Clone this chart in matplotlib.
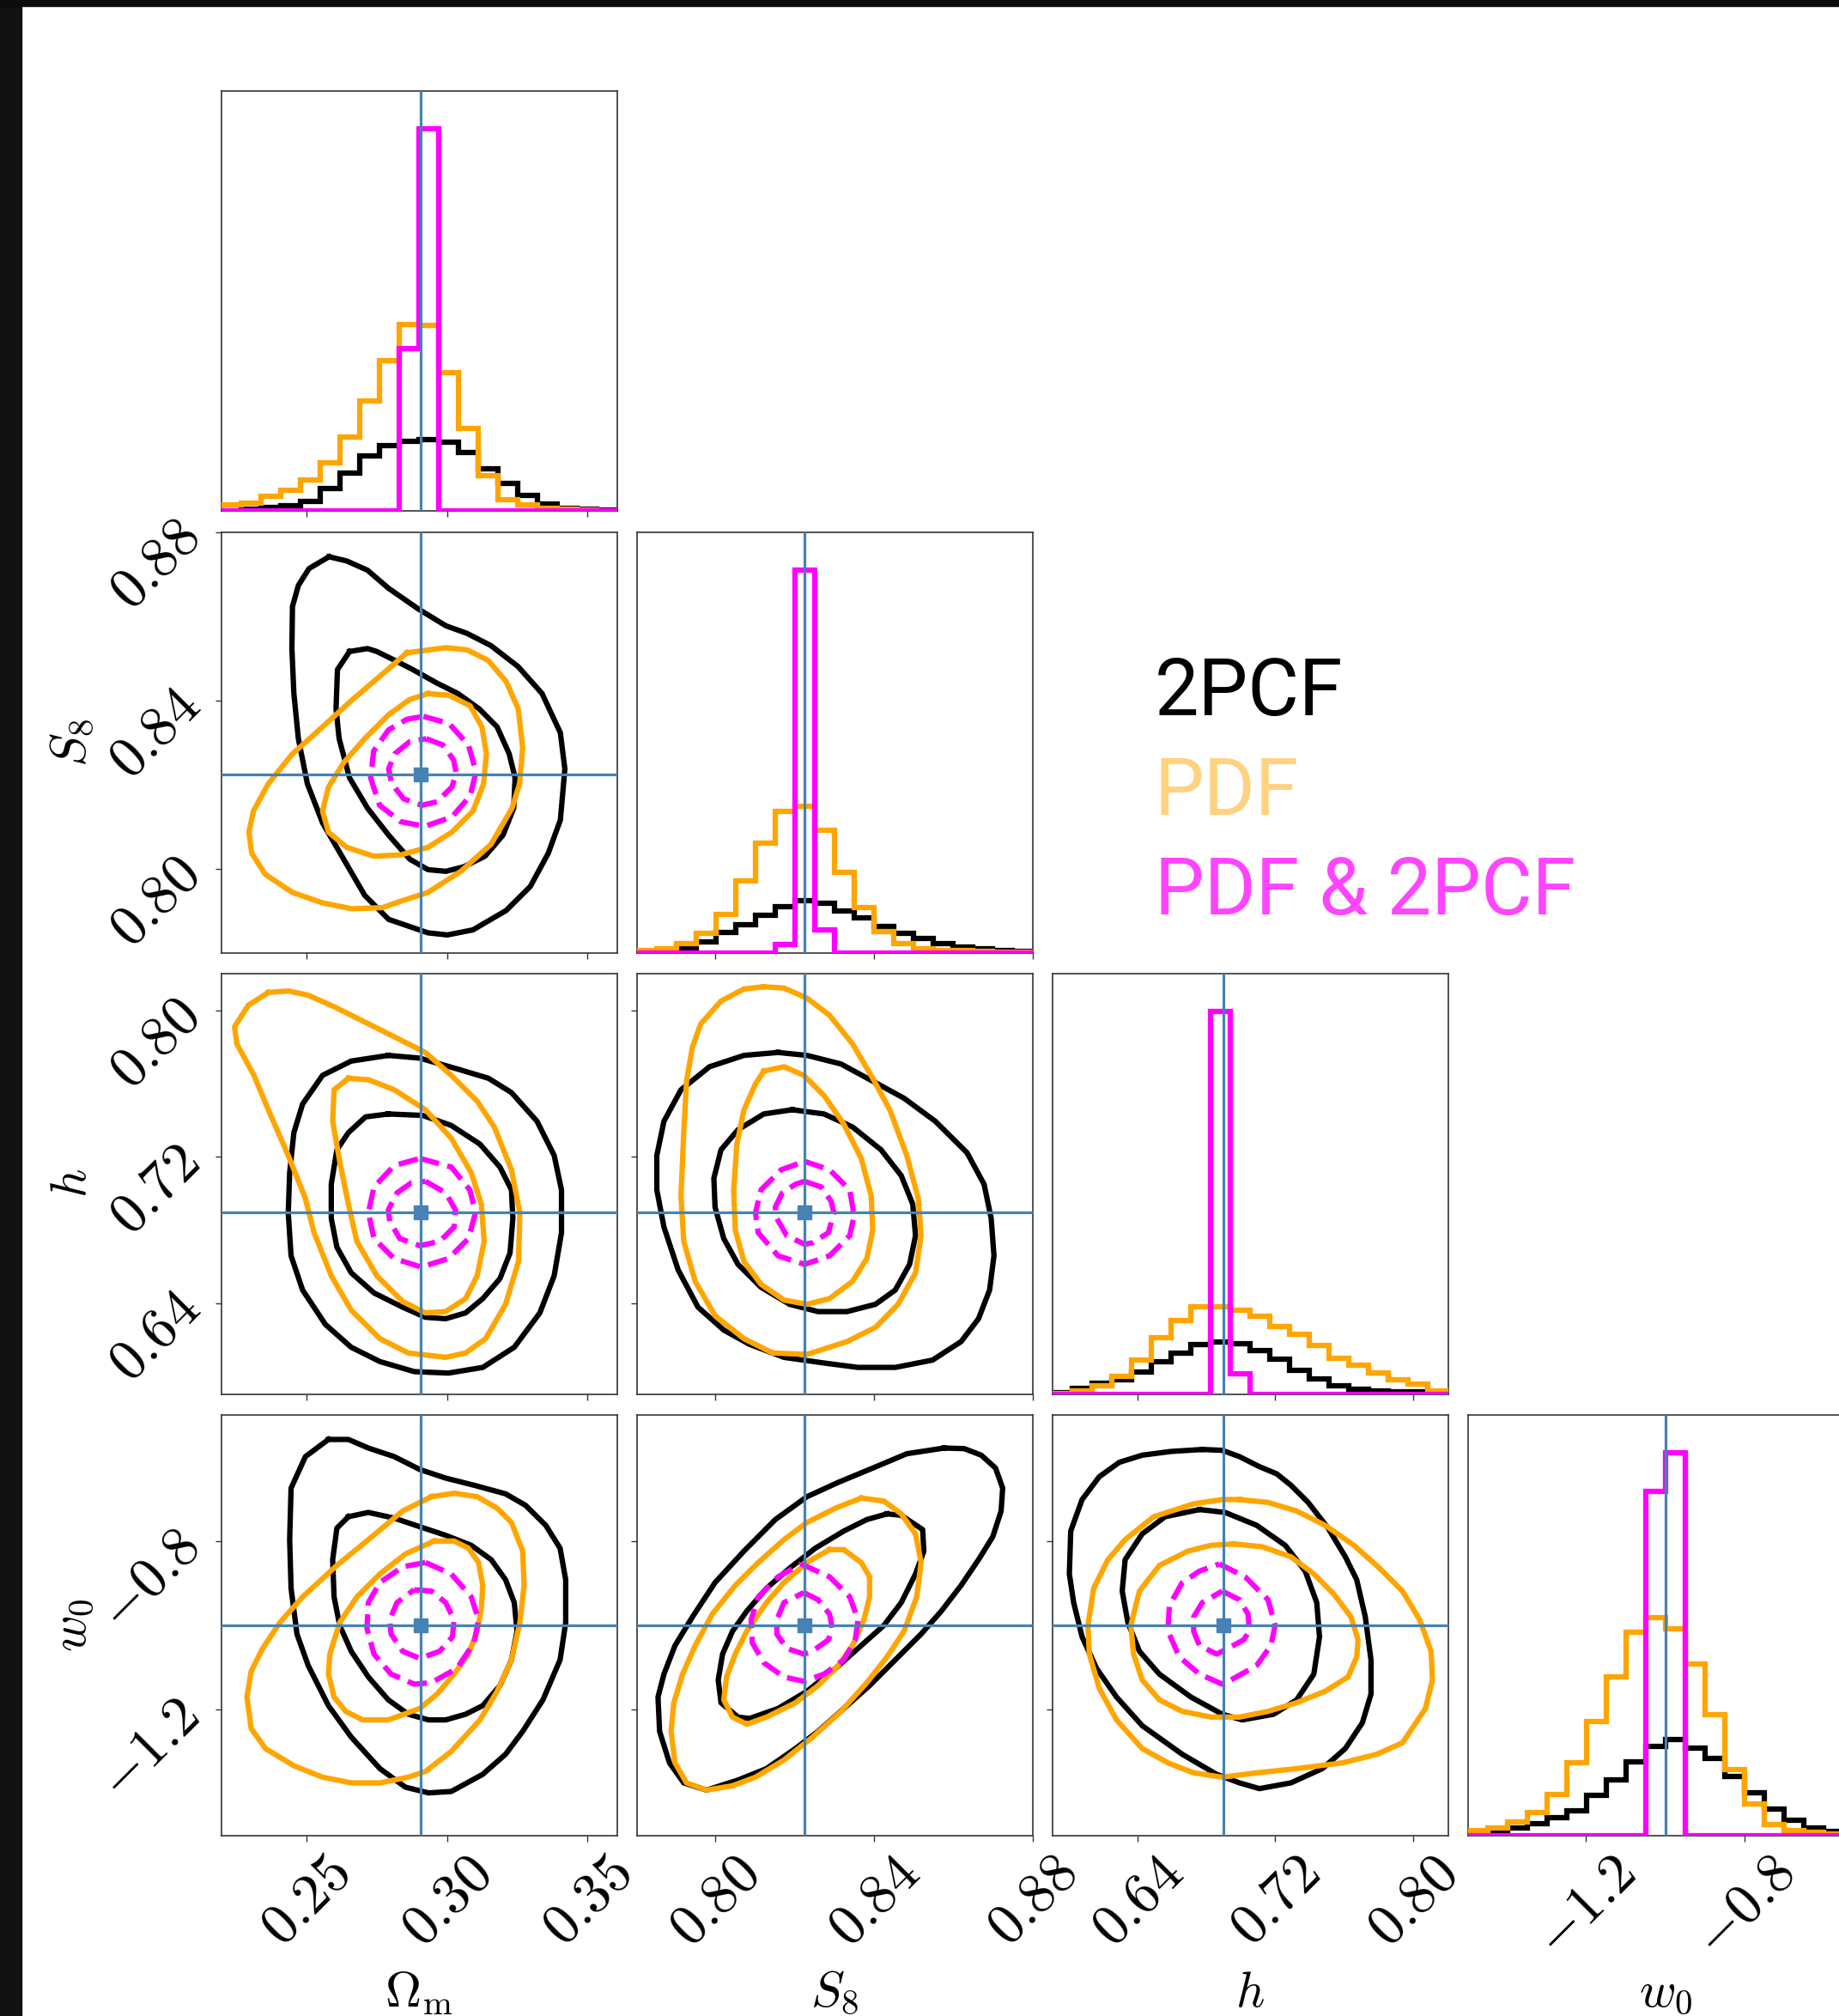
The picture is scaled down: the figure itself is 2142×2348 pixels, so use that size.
import numpy as np
import matplotlib.pyplot as plt

plt.rcParams['mathtext.fontset'] = 'cm'
plt.rcParams['font.family'] = ['DejaVu Sans']

# parameter ranges, fiducial values and ticks
om_range = (0.2196, 0.3604)
s8_range = (0.7801, 0.8800)
h_range = (0.5904, 0.8203)
w0_range = (-1.4965, -0.5015)

om_true, s8_true, h_true, w0_true = 0.2905, 0.8225, 0.6898, -1.0

om_ticks = [0.25, 0.30, 0.35]
s8_ticks = [0.80, 0.84, 0.88]
h_ticks = [0.64, 0.72, 0.80]
w0_ticks = [-1.2, -0.8]

# 1D marginals, 20 bins over each range (joint peak = 1)
om_hist_2pcf = [0.002, 0.005, 0.009, 0.014, 0.025, 0.060, 0.100, 0.144, 0.172, 0.183,
                0.187, 0.181, 0.154, 0.111, 0.074, 0.041, 0.020, 0.008, 0.005, 0.004]
om_hist_pdf = [0.016, 0.022, 0.039, 0.055, 0.081, 0.126, 0.195, 0.288, 0.393, 0.488,
               0.486, 0.362, 0.216, 0.093, 0.030, 0.016, 0.008, 0.005, 0.003, 0.002]
om_hist_joint = [0, 0, 0, 0, 0, 0, 0, 0, 0, 0.425, 1.0, 0, 0, 0, 0, 0, 0, 0, 0, 0]

s8_hist_2pcf = [0.003, 0.005, 0.012, 0.028, 0.052, 0.074, 0.098, 0.120, 0.136, 0.128,
                0.108, 0.090, 0.068, 0.050, 0.036, 0.024, 0.014, 0.010, 0.006, 0.004]
s8_hist_pdf = [0.006, 0.011, 0.024, 0.050, 0.100, 0.188, 0.286, 0.369, 0.382, 0.320,
               0.209, 0.117, 0.056, 0.024, 0.011, 0.006, 0.005, 0.003, 0.002, 0.002]
s8_hist_joint = [0, 0, 0, 0, 0, 0, 0, 0.022, 1.0, 0.060, 0, 0, 0, 0, 0, 0, 0, 0, 0, 0]

h_hist_2pcf = [0.004, 0.015, 0.027, 0.036, 0.057, 0.085, 0.107, 0.129, 0.135, 0.132,
               0.113, 0.092, 0.062, 0.040, 0.022, 0.012, 0.007, 0.006, 0.005, 0.002]
h_hist_pdf = [0.002, 0.007, 0.021, 0.045, 0.088, 0.148, 0.193, 0.227, 0.227, 0.219,
              0.204, 0.176, 0.155, 0.126, 0.094, 0.076, 0.055, 0.036, 0.025, 0.007]
h_hist_joint = [0, 0, 0, 0, 0, 0, 0, 0, 1.0, 0.052, 0, 0, 0, 0, 0, 0, 0, 0, 0, 0]

w0_hist_2pcf = [0.005, 0.011, 0.018, 0.031, 0.045, 0.064, 0.104, 0.144, 0.192, 0.232,
                0.251, 0.227, 0.200, 0.154, 0.112, 0.069, 0.040, 0.020, 0.010, 0.006]
w0_hist_pdf = [0.013, 0.020, 0.034, 0.059, 0.107, 0.190, 0.297, 0.414, 0.530, 0.568,
               0.541, 0.447, 0.315, 0.171, 0.082, 0.029, 0.013, 0.008, 0.004, 0.003]
w0_hist_joint = [0, 0, 0, 0, 0, 0, 0, 0, 0, 0.900, 1.0, 0, 0, 0, 0, 0, 0, 0, 0, 0]

# 2D credible contours (68% / 95%), (x, y) in parameter units
om_s8_2pcf_95 = [(0.2580, 0.8741), (0.2509, 0.8713), (0.2471, 0.8673), (0.2450, 0.8623), (0.2448, 0.8523),
                 (0.2455, 0.8416), (0.2471, 0.8309), (0.2503, 0.8202), (0.2557, 0.8109), (0.2632, 0.8023),
                 (0.2707, 0.7937), (0.2792, 0.7880), (0.2932, 0.7848), (0.3001, 0.7843), (0.3092, 0.7855),
                 (0.3210, 0.7901), (0.3296, 0.7958), (0.3360, 0.8037), (0.3403, 0.8116), (0.3419, 0.8237),
                 (0.3403, 0.8323), (0.3338, 0.8416), (0.3253, 0.8480), (0.3156, 0.8530), (0.3071, 0.8559),
                 (0.2996, 0.8577), (0.2900, 0.8616), (0.2792, 0.8666), (0.2717, 0.8709), (0.2643, 0.8731)]
om_s8_2pcf_68 = [(0.2653, 0.8516), (0.2610, 0.8473), (0.2605, 0.8380), (0.2616, 0.8309), (0.2653, 0.8216),
                 (0.2717, 0.8144), (0.2792, 0.8080), (0.2867, 0.8023), (0.2932, 0.7998), (0.2996, 0.7994),
                 (0.3060, 0.8005), (0.3135, 0.8030), (0.3199, 0.8080), (0.3237, 0.8144), (0.3242, 0.8216),
                 (0.3221, 0.8273), (0.3178, 0.8337), (0.3114, 0.8380), (0.3039, 0.8416), (0.2964, 0.8441),
                 (0.2878, 0.8473), (0.2814, 0.8495), (0.2750, 0.8516), (0.2717, 0.8523)]
om_s8_pdf_95 = [(0.2857, 0.8513), (0.2996, 0.8525), (0.3071, 0.8520), (0.3146, 0.8495), (0.3210, 0.8445),
                (0.3253, 0.8380), (0.3269, 0.8287), (0.3258, 0.8202), (0.3231, 0.8144), (0.3156, 0.8058),
                (0.3049, 0.7994), (0.2932, 0.7944), (0.2835, 0.7923), (0.2771, 0.7908), (0.2664, 0.7905),
                (0.2557, 0.7919), (0.2450, 0.7944), (0.2353, 0.7987), (0.2305, 0.8037), (0.2295, 0.8087),
                (0.2311, 0.8137), (0.2364, 0.8202), (0.2450, 0.8273), (0.2557, 0.8337), (0.2664, 0.8402),
                (0.2771, 0.8463)]
om_s8_pdf_68 = [(0.2932, 0.8416), (0.3007, 0.8412), (0.3082, 0.8387), (0.3124, 0.8337), (0.3140, 0.8273),
                (0.3130, 0.8202), (0.3092, 0.8137), (0.3017, 0.8087), (0.2932, 0.8051), (0.2835, 0.8033),
                (0.2739, 0.8030), (0.2643, 0.8051), (0.2578, 0.8087), (0.2557, 0.8137), (0.2578, 0.8194),
                (0.2632, 0.8252), (0.2707, 0.8309), (0.2792, 0.8366), (0.2867, 0.8402)]
om_s8_joint_95 = [(0.2916, 0.8362), (0.3007, 0.8345), (0.3076, 0.8294), (0.3103, 0.8230), (0.3082, 0.8173),
                  (0.3017, 0.8123), (0.2921, 0.8101), (0.2835, 0.8112), (0.2760, 0.8151), (0.2728, 0.8216),
                  (0.2739, 0.8280), (0.2792, 0.8330), (0.2857, 0.8355)]
om_s8_joint_68 = [(0.2926, 0.8309), (0.2985, 0.8294), (0.3023, 0.8259), (0.3033, 0.8227), (0.3017, 0.8194),
                  (0.2964, 0.8159), (0.2910, 0.8151), (0.2846, 0.8166), (0.2803, 0.8202), (0.2792, 0.8237),
                  (0.2814, 0.8273), (0.2867, 0.8302)]

om_h_2pcf_95 = [(0.2791, 0.7754), (0.2903, 0.7739), (0.3045, 0.7676), (0.3147, 0.7629), (0.3229, 0.7551),
                (0.3320, 0.7394), (0.3381, 0.7207), (0.3407, 0.7019), (0.3407, 0.6785), (0.3381, 0.6550),
                (0.3330, 0.6347), (0.3239, 0.6159), (0.3127, 0.6049), (0.3005, 0.6018), (0.2883, 0.6026),
                (0.2761, 0.6081), (0.2659, 0.6159), (0.2567, 0.6284), (0.2486, 0.6472), (0.2445, 0.6659),
                (0.2435, 0.6894), (0.2440, 0.7113), (0.2455, 0.7332), (0.2486, 0.7488), (0.2557, 0.7645),
                (0.2659, 0.7723)]
om_h_2pcf_68 = [(0.2791, 0.7434), (0.2913, 0.7426), (0.3015, 0.7371), (0.3117, 0.7269), (0.3188, 0.7144),
                (0.3229, 0.7019), (0.3234, 0.6863), (0.3224, 0.6675), (0.3188, 0.6534), (0.3127, 0.6425),
                (0.3066, 0.6347), (0.2995, 0.6315), (0.2923, 0.6323), (0.2842, 0.6378), (0.2740, 0.6456),
                (0.2659, 0.6566), (0.2608, 0.6706), (0.2588, 0.6863), (0.2588, 0.7050), (0.2608, 0.7238),
                (0.2649, 0.7332), (0.2710, 0.7418)]
om_h_pdf_95 = [(0.2364, 0.8098), (0.2435, 0.8106), (0.2506, 0.8083), (0.2598, 0.8020), (0.2761, 0.7895),
               (0.2923, 0.7770), (0.3015, 0.7645), (0.3107, 0.7504), (0.3168, 0.7363), (0.3229, 0.7129),
               (0.3259, 0.6894), (0.3254, 0.6628), (0.3208, 0.6394), (0.3137, 0.6206), (0.3066, 0.6128),
               (0.2995, 0.6104), (0.2862, 0.6128), (0.2761, 0.6206), (0.2659, 0.6362), (0.2588, 0.6550),
               (0.2527, 0.6785), (0.2496, 0.6972), (0.2435, 0.7207), (0.2364, 0.7457), (0.2313, 0.7645),
               (0.2252, 0.7817), (0.2244, 0.7911), (0.2293, 0.8028)]
om_h_pdf_68 = [(0.2649, 0.7629), (0.2720, 0.7621), (0.2812, 0.7566), (0.2923, 0.7457), (0.3015, 0.7301),
               (0.3086, 0.7113), (0.3122, 0.6941), (0.3132, 0.6738), (0.3107, 0.6550), (0.3066, 0.6425),
               (0.2995, 0.6354), (0.2923, 0.6347), (0.2842, 0.6409), (0.2750, 0.6550), (0.2679, 0.6738),
               (0.2649, 0.6941), (0.2618, 0.7175), (0.2593, 0.7394), (0.2598, 0.7566)]
om_h_joint_95 = [(0.2903, 0.7191), (0.3015, 0.7144), (0.3081, 0.7019), (0.3101, 0.6894), (0.3076, 0.6753),
                 (0.3005, 0.6644), (0.2908, 0.6597), (0.2812, 0.6644), (0.2740, 0.6753), (0.2720, 0.6894),
                 (0.2740, 0.7035), (0.2812, 0.7152)]
om_h_joint_68 = [(0.2923, 0.7066), (0.2995, 0.7003), (0.3030, 0.6910), (0.3025, 0.6816), (0.2974, 0.6738),
                 (0.2903, 0.6714), (0.2832, 0.6753), (0.2796, 0.6847), (0.2791, 0.6910), (0.2822, 0.7003),
                 (0.2873, 0.7058)]

s8_h_2pcf_95 = [(0.8158, 0.7770), (0.8231, 0.7754), (0.8317, 0.7707), (0.8397, 0.7613), (0.8476, 0.7520),
                (0.8555, 0.7394), (0.8635, 0.7222), (0.8678, 0.7050), (0.8696, 0.6863), (0.8703, 0.6659),
                (0.8692, 0.6472), (0.8664, 0.6315), (0.8620, 0.6190), (0.8548, 0.6089), (0.8454, 0.6049),
                (0.8360, 0.6049), (0.8274, 0.6073), (0.8173, 0.6104), (0.8086, 0.6175), (0.8021, 0.6253),
                (0.7956, 0.6378), (0.7906, 0.6581), (0.7870, 0.6816), (0.7852, 0.7019), (0.7852, 0.7207),
                (0.7870, 0.7394), (0.7913, 0.7566), (0.7985, 0.7692), (0.8072, 0.7754)]
s8_h_2pcf_68 = [(0.8194, 0.7457), (0.8274, 0.7434), (0.8346, 0.7363), (0.8418, 0.7238), (0.8469, 0.7097),
                (0.8498, 0.6941), (0.8505, 0.6769), (0.8490, 0.6612), (0.8454, 0.6472), (0.8404, 0.6394),
                (0.8332, 0.6354), (0.8259, 0.6354), (0.8187, 0.6394), (0.8115, 0.6487), (0.8057, 0.6612),
                (0.8021, 0.6753), (0.7999, 0.6925), (0.7996, 0.7082), (0.8014, 0.7238), (0.8057, 0.7348),
                (0.8122, 0.7434)]
s8_h_pdf_95 = [(0.8122, 0.8129), (0.8173, 0.8122), (0.8231, 0.8067), (0.8288, 0.7973), (0.8346, 0.7817),
               (0.8397, 0.7629), (0.8440, 0.7457), (0.8483, 0.7207), (0.8512, 0.6972), (0.8519, 0.6769),
               (0.8505, 0.6566), (0.8461, 0.6394), (0.8404, 0.6268), (0.8332, 0.6190), (0.8231, 0.6120),
               (0.8144, 0.6128), (0.8072, 0.6206), (0.7999, 0.6331), (0.7949, 0.6519), (0.7920, 0.6738),
               (0.7913, 0.6988), (0.7920, 0.7332), (0.7927, 0.7613), (0.7942, 0.7801), (0.7963, 0.7926),
               (0.8014, 0.8051), (0.8072, 0.8117)]
s8_h_pdf_68 = [(0.8122, 0.7668), (0.8173, 0.7692), (0.8223, 0.7645), (0.8274, 0.7535), (0.8324, 0.7379),
               (0.8368, 0.7191), (0.8393, 0.6988), (0.8397, 0.6800), (0.8382, 0.6644), (0.8346, 0.6519),
               (0.8288, 0.6425), (0.8231, 0.6394), (0.8173, 0.6417), (0.8115, 0.6503), (0.8072, 0.6628),
               (0.8050, 0.6800), (0.8046, 0.7019), (0.8054, 0.7269), (0.8072, 0.7457), (0.8101, 0.7598)]
s8_h_joint_95 = [(0.8225, 0.7175), (0.8288, 0.7129), (0.8339, 0.7019), (0.8350, 0.6878), (0.8339, 0.6769),
                 (0.8288, 0.6659), (0.8225, 0.6612), (0.8158, 0.6659), (0.8108, 0.6785), (0.8101, 0.6894),
                 (0.8115, 0.7019), (0.8166, 0.7129)]
s8_h_joint_68 = [(0.8225, 0.7066), (0.8267, 0.7035), (0.8292, 0.6957), (0.8299, 0.6894), (0.8285, 0.6785),
                 (0.8245, 0.6730), (0.8225, 0.6722), (0.8180, 0.6769), (0.8155, 0.6863), (0.8151, 0.6925),
                 (0.8169, 0.7003), (0.8202, 0.7050)]

om_w0_2pcf_95 = [(0.2578, -0.5604), (0.2649, -0.5604), (0.2720, -0.5807), (0.2812, -0.6010), (0.2903, -0.6315),
                 (0.2995, -0.6518), (0.3096, -0.6687), (0.3208, -0.6890), (0.3279, -0.7161), (0.3351, -0.7635),
                 (0.3402, -0.8176), (0.3422, -0.8921), (0.3422, -0.9936), (0.3402, -1.0816), (0.3341, -1.1763),
                 (0.3269, -1.2508), (0.3208, -1.3050), (0.3127, -1.3523), (0.3015, -1.3929), (0.2934, -1.3963),
                 (0.2852, -1.3828), (0.2761, -1.3388), (0.2659, -1.2643), (0.2578, -1.1899), (0.2506, -1.0951),
                 (0.2466, -1.0207), (0.2445, -0.9124), (0.2440, -0.7973), (0.2445, -0.6755), (0.2496, -0.6010)]
om_w0_2pcf_68 = [(0.2649, -0.7431), (0.2720, -0.7330), (0.2812, -0.7465), (0.2903, -0.7668), (0.2995, -0.7871),
                 (0.3086, -0.8108), (0.3157, -0.8447), (0.3208, -0.8921), (0.3239, -0.9462), (0.3249, -1.0139),
                 (0.3229, -1.0816), (0.3188, -1.1425), (0.3127, -1.1899), (0.3066, -1.2102), (0.2995, -1.2237),
                 (0.2934, -1.2237), (0.2862, -1.2102), (0.2791, -1.1763), (0.2720, -1.1222), (0.2659, -1.0613),
                 (0.2618, -1.0003), (0.2598, -0.9327), (0.2593, -0.8447), (0.2608, -0.7702)]
om_w0_pdf_95 = [(0.2944, -0.6958), (0.3025, -0.6876), (0.3107, -0.6958), (0.3178, -0.7228), (0.3229, -0.7567),
                (0.3269, -0.8244), (0.3274, -0.9056), (0.3259, -0.9936), (0.3229, -1.0816), (0.3178, -1.1560),
                (0.3117, -1.2237), (0.3015, -1.2982), (0.2923, -1.3456), (0.2862, -1.3591), (0.2761, -1.3726),
                (0.2659, -1.3726), (0.2557, -1.3591), (0.2455, -1.3320), (0.2354, -1.2914), (0.2303, -1.2440),
                (0.2288, -1.1696), (0.2303, -1.1087), (0.2344, -1.0545), (0.2405, -0.9936), (0.2486, -0.9327),
                (0.2608, -0.8582), (0.2720, -0.7973), (0.2842, -0.7296)]
om_w0_pdf_68 = [(0.2954, -0.8007), (0.3025, -0.8007), (0.3076, -0.8176), (0.3112, -0.8514), (0.3127, -0.9056),
                (0.3122, -0.9597), (0.3107, -1.0139), (0.3076, -1.0680), (0.3025, -1.1154), (0.2964, -1.1628),
                (0.2903, -1.1967), (0.2791, -1.2237), (0.2700, -1.2237), (0.2639, -1.2034), (0.2598, -1.1696),
                (0.2578, -1.1154), (0.2583, -1.0680), (0.2618, -0.9936), (0.2679, -0.9327), (0.2761, -0.8785),
                (0.2852, -0.8311)]
om_w0_joint_95 = [(0.2923, -0.8514), (0.3015, -0.8785), (0.3086, -0.9327), (0.3112, -0.9868), (0.3096, -1.0410),
                  (0.3035, -1.1019), (0.2944, -1.1357), (0.2883, -1.1391), (0.2801, -1.1154), (0.2740, -1.0680),
                  (0.2715, -1.0071), (0.2720, -0.9462), (0.2761, -0.8988), (0.2842, -0.8616)]
om_w0_joint_68 = [(0.2883, -0.9158), (0.2944, -0.9191), (0.2995, -0.9462), (0.3025, -0.9868), (0.3019, -1.0274),
                  (0.2974, -1.0613), (0.2903, -1.0782), (0.2842, -1.0613), (0.2801, -1.0207), (0.2796, -0.9868),
                  (0.2822, -0.9462)]

s8_w0_2pcf_95 = [(0.8577, -0.5807), (0.8628, -0.5821), (0.8671, -0.5976), (0.8707, -0.6281), (0.8725, -0.6755),
                 (0.8721, -0.7296), (0.8700, -0.7905), (0.8664, -0.8447), (0.8620, -0.9056), (0.8570, -0.9665),
                 (0.8519, -1.0207), (0.8454, -1.0816), (0.8389, -1.1425), (0.8324, -1.1967), (0.8259, -1.2508),
                 (0.8202, -1.2914), (0.8129, -1.3388), (0.8057, -1.3659), (0.7978, -1.3896), (0.7920, -1.3726),
                 (0.7884, -1.3253), (0.7859, -1.2508), (0.7855, -1.1696), (0.7870, -1.1154), (0.7898, -1.0477),
                 (0.7942, -0.9801), (0.7999, -0.8988), (0.8072, -0.8244), (0.8151, -0.7499), (0.8231, -0.6958),
                 (0.8310, -0.6619), (0.8397, -0.6281), (0.8483, -0.5942)]
s8_w0_2pcf_68 = [(0.8433, -0.7364), (0.8469, -0.7398), (0.8523, -0.7736), (0.8526, -0.8244), (0.8505, -0.8785),
                 (0.8469, -0.9462), (0.8425, -1.0003), (0.8368, -1.0477), (0.8303, -1.1019), (0.8231, -1.1560),
                 (0.8158, -1.1967), (0.8086, -1.2203), (0.8057, -1.2170), (0.8014, -1.1831), (0.8007, -1.1290),
                 (0.8018, -1.0680), (0.8043, -1.0139), (0.8079, -0.9665), (0.8129, -0.9124), (0.8187, -0.8650),
                 (0.8252, -0.8176), (0.8324, -0.7770), (0.8382, -0.7499)]
s8_w0_pdf_95 = [(0.8368, -0.6991), (0.8425, -0.7059), (0.8469, -0.7364), (0.8505, -0.7838), (0.8519, -0.8514),
                (0.8508, -0.9327), (0.8476, -1.0139), (0.8433, -1.0748), (0.8382, -1.1357), (0.8317, -1.2034),
                (0.8245, -1.2643), (0.8173, -1.3185), (0.8101, -1.3591), (0.8043, -1.3794), (0.7978, -1.3896),
                (0.7927, -1.3726), (0.7898, -1.3253), (0.7888, -1.2508), (0.7895, -1.1831), (0.7917, -1.1154),
                (0.7949, -1.0477), (0.7992, -0.9733), (0.8050, -0.9056), (0.8108, -0.8514), (0.8173, -0.7973),
                (0.8231, -0.7567), (0.8303, -0.7228)]
s8_w0_pdf_68 = [(0.8288, -0.8210), (0.8324, -0.8210), (0.8368, -0.8514), (0.8389, -0.8853), (0.8389, -0.9327),
                (0.8375, -0.9868), (0.8346, -1.0477), (0.8310, -1.0951), (0.8259, -1.1425), (0.8202, -1.1831),
                (0.8129, -1.2170), (0.8079, -1.2339), (0.8043, -1.2170), (0.8021, -1.1763), (0.8028, -1.1222),
                (0.8050, -1.0680), (0.8079, -1.0139), (0.8129, -0.9462), (0.8173, -0.8988), (0.8231, -0.8514)]
s8_w0_joint_95 = [(0.8216, -0.8548), (0.8288, -0.8853), (0.8339, -0.9327), (0.8360, -0.9868), (0.8353, -1.0342),
                  (0.8324, -1.0816), (0.8274, -1.1154), (0.8223, -1.1324), (0.8173, -1.1222), (0.8122, -1.0884),
                  (0.8093, -1.0410), (0.8090, -0.9868), (0.8108, -0.9327), (0.8158, -0.8853)]
s8_w0_joint_68 = [(0.8223, -0.9225), (0.8259, -0.9394), (0.8288, -0.9733), (0.8295, -1.0071), (0.8285, -1.0342),
                  (0.8245, -1.0613), (0.8223, -1.0680), (0.8180, -1.0545), (0.8155, -1.0207), (0.8155, -0.9868),
                  (0.8173, -0.9462)]

h_w0_2pcf_95 = [(0.6776, -0.5841), (0.6892, -0.5861), (0.6992, -0.6010), (0.7108, -0.6247), (0.7208, -0.6416),
                (0.7291, -0.6687), (0.7391, -0.7093), (0.7507, -0.7702), (0.7607, -0.8379), (0.7673, -0.8921),
                (0.7723, -0.9801), (0.7756, -1.0816), (0.7756, -1.1628), (0.7706, -1.2305), (0.7607, -1.2914),
                (0.7474, -1.3388), (0.7291, -1.3726), (0.7108, -1.3862), (0.6992, -1.3726), (0.6859, -1.3523),
                (0.6660, -1.3050), (0.6427, -1.2373), (0.6278, -1.1696), (0.6162, -1.1019), (0.6078, -1.0274),
                (0.6029, -0.9462), (0.6004, -0.8785), (0.6012, -0.7770), (0.6078, -0.7025), (0.6178, -0.6484),
                (0.6294, -0.6145), (0.6427, -0.5976), (0.6593, -0.5888)]
h_w0_2pcf_68 = [(0.6760, -0.7262), (0.6909, -0.7330), (0.7092, -0.7635), (0.7258, -0.8108), (0.7374, -0.8718),
                (0.7441, -0.9462), (0.7457, -1.0274), (0.7424, -1.1154), (0.7324, -1.1763), (0.7191, -1.2102),
                (0.7009, -1.2237), (0.6892, -1.2102), (0.6710, -1.1696), (0.6527, -1.1154), (0.6411, -1.0613),
                (0.6344, -0.9936), (0.6311, -0.9191), (0.6328, -0.8447), (0.6427, -0.7838), (0.6560, -0.7431)]
h_w0_pdf_95 = [(0.6992, -0.7025), (0.7158, -0.7093), (0.7324, -0.7296), (0.7490, -0.7635), (0.7657, -0.8108),
               (0.7806, -0.8650), (0.7939, -0.9191), (0.8039, -0.9868), (0.8105, -1.0613), (0.8113, -1.1290),
               (0.8072, -1.1967), (0.7939, -1.2779), (0.7789, -1.3050), (0.7590, -1.3253), (0.7324, -1.3388),
               (0.7092, -1.3489), (0.6892, -1.3591), (0.6726, -1.3489), (0.6577, -1.3253), (0.6427, -1.2914),
               (0.6278, -1.2237), (0.6178, -1.1493), (0.6120, -1.0680), (0.6112, -1.0003), (0.6145, -0.9124),
               (0.6228, -0.8447), (0.6328, -0.7973), (0.6494, -0.7431), (0.6726, -0.7127), (0.6892, -0.7025)]
h_w0_pdf_68 = [(0.6959, -0.8075), (0.7125, -0.8142), (0.7291, -0.8379), (0.7424, -0.8785), (0.7540, -0.9259),
               (0.7640, -0.9801), (0.7681, -1.0342), (0.7673, -1.0748), (0.7623, -1.1222), (0.7490, -1.1560),
               (0.7324, -1.1831), (0.7158, -1.2034), (0.6992, -1.2170), (0.6826, -1.2170), (0.6660, -1.2034),
               (0.6527, -1.1763), (0.6427, -1.1290), (0.6377, -1.0680), (0.6361, -1.0003), (0.6411, -0.9191),
               (0.6527, -0.8582), (0.6693, -0.8244), (0.6826, -0.8108)]
h_w0_joint_95 = [(0.6876, -0.8548), (0.7025, -0.8853), (0.7158, -0.9394), (0.7199, -1.0003), (0.7175, -1.0477),
                 (0.7092, -1.0951), (0.6959, -1.1256), (0.6892, -1.1391), (0.6760, -1.1154), (0.6643, -1.0748),
                 (0.6577, -1.0139), (0.6585, -0.9530), (0.6660, -0.8988), (0.6760, -0.8718)]
h_w0_joint_68 = [(0.6892, -0.9191), (0.6992, -0.9394), (0.7042, -0.9733), (0.7050, -1.0139), (0.7017, -1.0342),
                 (0.6926, -1.0545), (0.6859, -1.0680), (0.6760, -1.0477), (0.6726, -1.0139), (0.6726, -0.9801),
                 (0.6776, -0.9462)]

labels = [r'$\Omega_{\rm m}$', r'$S_8$', r'$h$', r'$w_0$']
legend_names = ['2PCF', 'PDF', 'PDF & 2PCF']

# ---------------------------------------------------------------------------
ranges = [om_range, s8_range, h_range, w0_range]
truths = [om_true, s8_true, h_true, w0_true]
ticks = [om_ticks, s8_ticks, h_ticks, w0_ticks]
tick_fmt = ['%.2f', '%.2f', '%.2f', '%.1f']
hists = [
    [om_hist_2pcf, om_hist_pdf, om_hist_joint],
    [s8_hist_2pcf, s8_hist_pdf, s8_hist_joint],
    [h_hist_2pcf, h_hist_pdf, h_hist_joint],
    [w0_hist_2pcf, w0_hist_pdf, w0_hist_joint],
]
contours = {
    (1, 0): [(om_s8_2pcf_95, om_s8_2pcf_68), (om_s8_pdf_95, om_s8_pdf_68), (om_s8_joint_95, om_s8_joint_68)],
    (2, 0): [(om_h_2pcf_95, om_h_2pcf_68), (om_h_pdf_95, om_h_pdf_68), (om_h_joint_95, om_h_joint_68)],
    (2, 1): [(s8_h_2pcf_95, s8_h_2pcf_68), (s8_h_pdf_95, s8_h_pdf_68), (s8_h_joint_95, s8_h_joint_68)],
    (3, 0): [(om_w0_2pcf_95, om_w0_2pcf_68), (om_w0_pdf_95, om_w0_pdf_68), (om_w0_joint_95, om_w0_joint_68)],
    (3, 1): [(s8_w0_2pcf_95, s8_w0_2pcf_68), (s8_w0_pdf_95, s8_w0_pdf_68), (s8_w0_joint_95, s8_w0_joint_68)],
    (3, 2): [(h_w0_2pcf_95, h_w0_2pcf_68), (h_w0_pdf_95, h_w0_pdf_68), (h_w0_joint_95, h_w0_joint_68)],
}

colors = ['black', '#FFA500', '#FF00FF']
styles = ['-', '-', '--']
legend_colors = ['black', '#FFD280', '#FF44FF']
truth_color = '#4682b4'
LW = 4.5
TRUTH_LW = 2.3
TICK_FS = 48
LABEL_FS = 42

W, H = 2142, 2348
col_left = [257.5, 741.5, 1225.5, 1709.5]
row_top = [105.5, 619.5, 1133.5, 1647.5]
aw, ah = 461, 490

fig = plt.figure(figsize=(W / 100, H / 100), dpi=100)
fig.patch.set_facecolor('white')


def closed(pts):
    a = np.asarray(pts, dtype=float)
    return np.vstack([a, a[:1]])


def style_axis(ax, i, j):
    for sp in ax.spines.values():
        sp.set_color('#333333')
        sp.set_linewidth(1.2)
    ax.tick_params(direction='out', length=5, width=1.0, color='#333333',
                   labelsize=TICK_FS)
    ax.set_xticks(ticks[j])
    if i == 3:
        ax.set_xticklabels(['$' + tick_fmt[j] % t + '$' for t in ticks[j]])
        ax.tick_params(axis='x', labelrotation=45)
        ax.set_xlabel(labels[j], fontsize=LABEL_FS)
        ax.xaxis.set_label_coords(0.5, -0.315)
    else:
        ax.set_xticklabels([])
    if i == j:
        ax.set_yticks([])
    else:
        ax.set_yticks(ticks[i])
        if j == 0:
            ax.set_yticklabels(['$' + tick_fmt[i] % t + '$' for t in ticks[i]])
            ax.tick_params(axis='y', labelrotation=45)
            ax.set_ylabel(labels[i], fontsize=LABEL_FS)
            ax.yaxis.set_label_coords(-0.316, 0.5)
        else:
            ax.set_yticklabels([])


for i in range(4):
    for j in range(i + 1):
        ax = fig.add_axes([col_left[j] / W, 1 - (row_top[i] + ah) / H, aw / W, ah / H])
        if i == j:
            edges = np.linspace(ranges[i][0], ranges[i][1], 21)
            for k, vals in enumerate(hists[i]):
                ax.stairs(vals, edges, color=colors[k], lw=LW, zorder=2 + k)
            ax.set_ylim(0, 1.1 * max(hists[i][2]))
            ax.axvline(truths[i], color=truth_color, lw=TRUTH_LW, zorder=6)
        else:
            for k, (c95, c68) in enumerate(contours[(i, j)]):
                for c in (c95, c68):
                    c = closed(c)
                    ax.plot(c[:, 0], c[:, 1], color=colors[k], ls=styles[k], lw=LW,
                            solid_joinstyle='round', zorder=2 + k)
            ax.axvline(truths[j], color=truth_color, lw=TRUTH_LW, zorder=6)
            ax.axhline(truths[i], color=truth_color, lw=TRUTH_LW, zorder=6)
            ax.plot([truths[j]], [truths[i]], 's', color=truth_color, ms=11, zorder=7)
            ax.set_ylim(*ranges[i])
        ax.set_xlim(*ranges[j])
        style_axis(ax, i, j)

# series names
for k, name in enumerate(legend_names):
    fig.text(1345 / W, 1 - (833 + 116 * k) / H, name, color=legend_colors[k],
             fontsize=66, family=['Roboto', 'DejaVu Sans'], va='baseline', ha='left')

# dark window border
fig.patches.append(plt.Rectangle((0, 0), 25 / W, 1, transform=fig.transFigure,
                                 color='#111111', zorder=10))
fig.patches.append(plt.Rectangle((0, 1 - 7 / H), 1, 7 / H, transform=fig.transFigure,
                                 color='#0c0c0c', zorder=10))

fig.savefig('out.png', dpi=100)
